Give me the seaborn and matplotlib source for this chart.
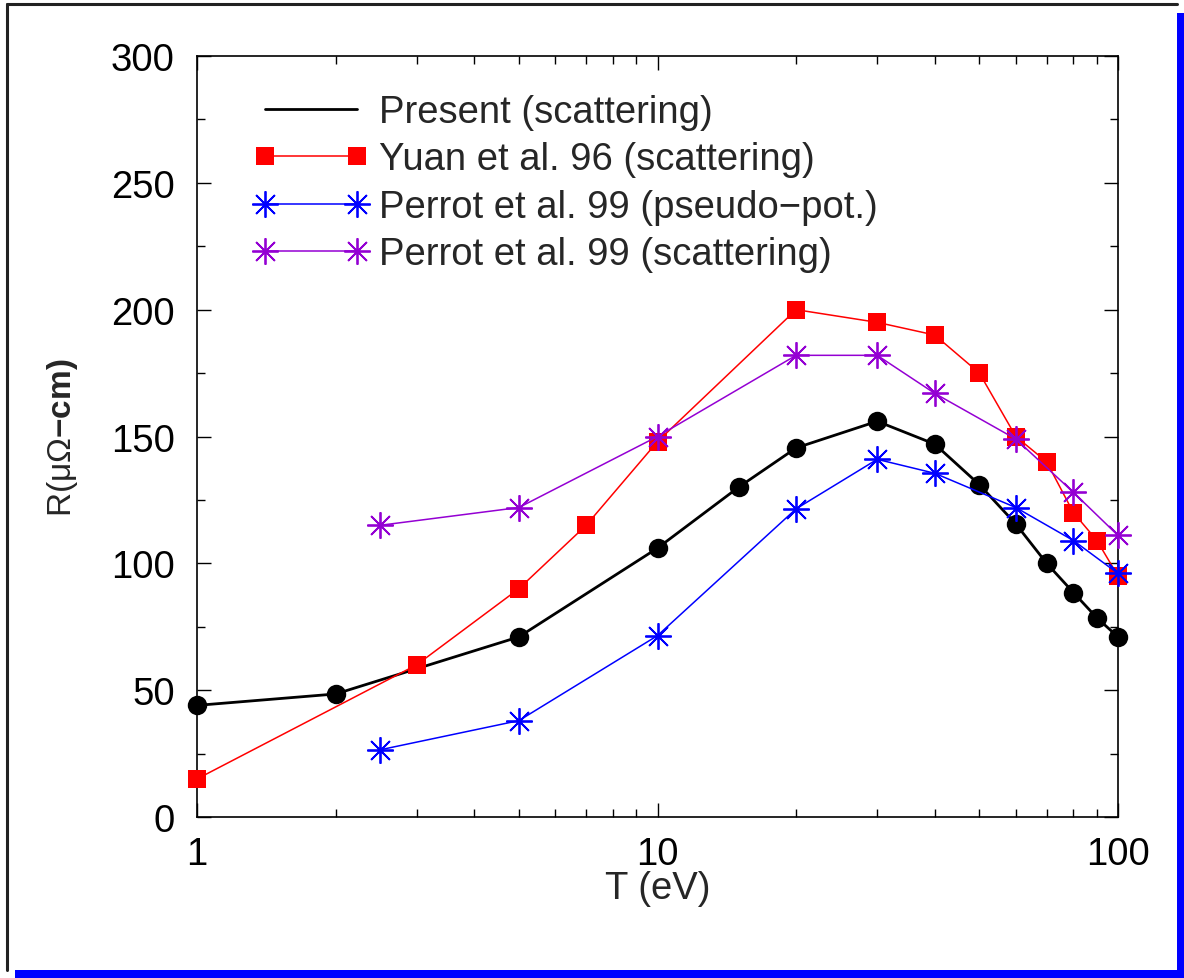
import matplotlib
matplotlib.use("Agg")
import matplotlib.pyplot as plt
import seaborn as sns
from matplotlib.patches import Rectangle
from matplotlib.lines import Line2D
from matplotlib.ticker import FixedLocator, NullFormatter

# data
T_present = [1, 2, 5, 10, 15, 20, 30, 40, 50, 60, 70, 80, 90, 100]
R_present = [44, 48.5, 71, 106, 130, 145.5, 156, 147, 131, 115.5, 100, 88.5, 78.5, 71]

T_yuan = [1, 3, 5, 7, 10, 20, 30, 40, 50, 60, 70, 80, 90, 100]
R_yuan = [15, 60, 90, 115, 148, 200, 195, 190, 175, 150, 140, 120, 109, 95]

T_pp = [2.5, 5, 10, 20, 30, 40, 60, 80, 100]
R_pp = [26.5, 38, 71.5, 121.5, 141, 135.5, 122, 109, 96]

T_ps = [2.5, 5, 10, 20, 30, 40, 60, 80, 100]
R_ps = [115, 122, 150, 182, 182, 167, 149, 128, 111]

labels = ["Present (scattering)", "Yuan et al. 96 (scattering)",
          "Perrot et al. 99 (pseudo\u2212pot.)", "Perrot et al. 99 (scattering)"]

sns.set_style("ticks")
plt.rcParams["font.family"] = ["Liberation Sans", "DejaVu Sans"]
plt.rcParams["mathtext.fontset"] = "custom"
plt.rcParams["mathtext.rm"] = "Liberation Sans"
plt.rcParams["mathtext.bf"] = "Liberation Sans:bold"

FS = 27.5
W, H = 1184, 979
fig = plt.figure(figsize=(W / 100, H / 100), dpi=100)
ax = fig.add_axes([197 / W, 1 - 818 / H, (1118 - 197) / W, (818 - 57) / H])

purple = "#9400d3"
star = (8, 2, 0)

styles = [
    dict(color="black", linewidth=2, marker="o", markersize=14, markeredgewidth=0),
    dict(color="red", linewidth=1.1, marker="s", markersize=13, markeredgewidth=0),
    dict(color="blue", linewidth=1.1, marker=star, markersize=19, markeredgewidth=1.3,
         markeredgecolor="blue"),
    dict(color=purple, linewidth=1.1, marker=star, markersize=19, markeredgewidth=1.3,
         markeredgecolor=purple),
]
series = [(T_present, R_present), (T_yuan, R_yuan), (T_pp, R_pp), (T_ps, R_ps)]
for i, ((xs, ys), st) in enumerate(zip(series, styles)):
    sns.lineplot(x=xs, y=ys, ax=ax, label=labels[i], zorder=2 + i, clip_on=False, **st)

ax.set_xscale("log")
ax.set_xlim(1, 100)
ax.set_ylim(0, 300)
ax.set_yticks([0, 50, 100, 150, 200, 250, 300])
ax.yaxis.set_minor_locator(FixedLocator(list(range(25, 300, 50))))
ax.set_xticks([1, 10, 100])
ax.set_xticklabels(["1", "10", "100"])
ax.xaxis.set_minor_locator(FixedLocator([m * d for d in (1, 10) for m in range(2, 10)]))
ax.xaxis.set_minor_formatter(NullFormatter())

ax.tick_params(which="both", direction="in", top=True, right=True,
               labelsize=FS, width=1, colors="black")
ax.tick_params(which="major", length=10)
ax.tick_params(which="minor", length=6)
ax.tick_params(axis="y", which="major", pad=16)
ax.tick_params(axis="x", which="major", pad=14)
for s in ax.spines.values():
    s.set_linewidth(1.2)
    s.set_color("black")

ax.set_xlabel("T (eV)", fontsize=FS, labelpad=-2)
ax.set_ylabel(r"R(μΩ$\mathbf{-cm)}$", fontsize=24, labelpad=22)

handles = [Line2D([], [], **st) for st in styles]
handles[0] = Line2D([], [], color="black", linewidth=2)
ax.legend(handles, labels, loc="upper left", bbox_to_anchor=(254 / W, 1 - 95 / H),
          bbox_transform=fig.transFigure, frameon=False, fontsize=FS, numpoints=2,
          handlelength=3.0, handletextpad=0.27, labelspacing=0.3, borderpad=0,
          borderaxespad=0)

# page frame with blue shadow
fig.add_artist(Rectangle((15 / W, 0), (W - 15) / W, 8 / H, transform=fig.transFigure,
                         facecolor="blue", edgecolor="none"))
fig.add_artist(Rectangle((1177 / W, 0), 7 / W, (H - 14) / H, transform=fig.transFigure,
                         facecolor="blue", edgecolor="none"))
fig.add_artist(Line2D([6.5 / W, 6.5 / W], [1 - 971 / H, 1 - 4.5 / H], transform=fig.transFigure,
                      color="#222222", linewidth=2.2))
fig.add_artist(Line2D([6.5 / W, 1177 / W], [1 - 4.5 / H, 1 - 4.5 / H], transform=fig.transFigure,
                      color="#222222", linewidth=2.2))

fig.savefig("out.png", dpi=100)
